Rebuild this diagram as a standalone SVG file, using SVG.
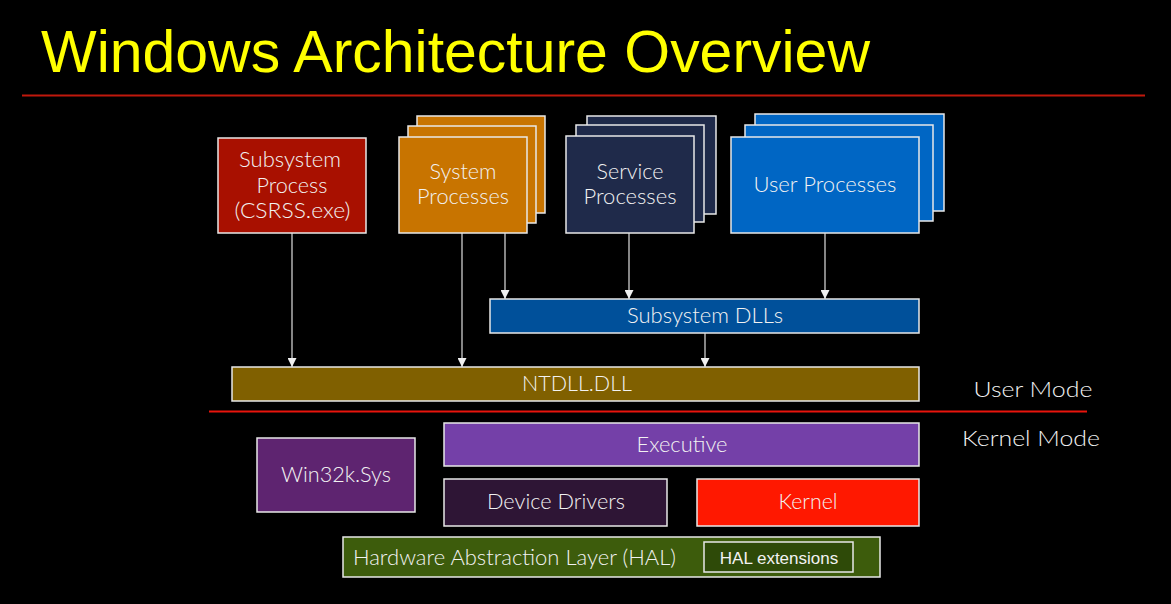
<svg xmlns="http://www.w3.org/2000/svg" width="1171" height="604" viewBox="0 0 1171 604">
<defs>
<style>
.box{stroke:#e8e8e8;stroke-width:1.5}
.t{font-family:Lato,"Noto Sans","Liberation Sans",sans-serif;font-size:21px;font-weight:300;fill:#f2f2f2;text-anchor:middle}
.conn line{stroke:#e0e0e0;stroke-width:1.2}
</style>
<marker id="ah" viewBox="0 0 10 10" refX="10" refY="5" markerWidth="9" markerHeight="9" markerUnits="userSpaceOnUse" orient="auto">
<path d="M0,0 L10,5 L0,10 z" fill="#f0f0f0"/>
</marker>
</defs>
<rect width="1171" height="604" fill="#000"/>
<text x="41" y="72" font-family="'Liberation Sans',Arial,sans-serif" font-size="60" fill="#ffff00" textLength="829" lengthAdjust="spacingAndGlyphs">Windows Architecture Overview</text>
<line x1="22" y1="95.5" x2="1145" y2="95.5" stroke="#c0180c" stroke-width="2"/>

<g id="subsystem-process">
<rect class="box" x="218" y="138" width="148" height="95" fill="#a81000"/>
<text class="t" x="290" y="167" textLength="102" lengthAdjust="spacingAndGlyphs">Subsystem</text>
<text class="t" x="292" y="193" textLength="71" lengthAdjust="spacingAndGlyphs">Process</text>
<text class="t" x="292.5" y="218" textLength="116" lengthAdjust="spacingAndGlyphs">(CSRSS.exe)</text>
</g>

<g id="system-processes">
<rect class="box" x="417" y="116" width="128" height="97" fill="#c87400"/>
<rect class="box" x="408" y="126" width="128" height="97" fill="#c87400"/>
<rect class="box" x="399" y="137" width="128" height="96" fill="#c87400"/>
<text class="t" x="463" y="179" textLength="67" lengthAdjust="spacingAndGlyphs">System</text>
<text class="t" x="463" y="204" textLength="92" lengthAdjust="spacingAndGlyphs">Processes</text>
</g>

<g id="service-processes">
<rect class="box" x="587" y="116" width="129" height="98" fill="#1f2a4a"/>
<rect class="box" x="576" y="125" width="128" height="97" fill="#1f2a4a"/>
<rect class="box" x="566" y="136" width="128" height="97" fill="#1f2a4a"/>
<text class="t" x="630" y="179" textLength="67" lengthAdjust="spacingAndGlyphs">Service</text>
<text class="t" x="630" y="204" textLength="93" lengthAdjust="spacingAndGlyphs">Processes</text>
</g>

<g id="user-processes">
<rect class="box" x="755" y="114" width="189" height="97" fill="#0066c4"/>
<rect class="box" x="745" y="125" width="188" height="96" fill="#0066c4"/>
<rect class="box" x="731" y="137" width="188" height="96" fill="#0066c4"/>
<text class="t" x="825" y="192" textLength="143" lengthAdjust="spacingAndGlyphs">User Processes</text>
</g>

<g id="subsystem-dlls">
<rect class="box" x="490" y="299" width="429" height="34" fill="#00509a"/>
<text class="t" x="705" y="323" textLength="156" lengthAdjust="spacingAndGlyphs">Subsystem DLLs</text>
</g>

<g id="ntdll">
<rect class="box" x="232" y="367" width="687" height="34" fill="#806000"/>
<text class="t" x="577" y="391" textLength="110" lengthAdjust="spacingAndGlyphs">NTDLL.DLL</text>
</g>

<g id="connectors" class="conn">
<line x1="292" y1="233" x2="292" y2="367" marker-end="url(#ah)"/>
<line x1="462" y1="233" x2="462" y2="367" marker-end="url(#ah)"/>
<line x1="505" y1="233" x2="505" y2="299" marker-end="url(#ah)"/>
<line x1="629" y1="233" x2="629" y2="299" marker-end="url(#ah)"/>
<line x1="825" y1="233" x2="825" y2="299" marker-end="url(#ah)"/>
<line x1="705" y1="333" x2="705" y2="367" marker-end="url(#ah)"/>
</g>

<line x1="209" y1="411.5" x2="1087" y2="411.5" stroke="#e8140c" stroke-width="2"/>
<text class="t" x="1033" y="397" style="font-size:22px" textLength="119" lengthAdjust="spacingAndGlyphs">User Mode</text>
<text class="t" x="1031" y="446" style="font-size:22px" textLength="138" lengthAdjust="spacingAndGlyphs">Kernel Mode</text>

<g id="win32k">
<rect class="box" x="257" y="438" width="158" height="74" fill="#5e2470"/>
<text class="t" x="336" y="482" textLength="110" lengthAdjust="spacingAndGlyphs">Win32k.Sys</text>
</g>

<g id="executive">
<rect class="box" x="444" y="423" width="475" height="43" fill="#7440a8"/>
<text class="t" x="682" y="452" textLength="91" lengthAdjust="spacingAndGlyphs">Executive</text>
</g>

<g id="device-drivers">
<rect class="box" x="444" y="479" width="223" height="47" fill="#2e1535"/>
<text class="t" x="556" y="509" textLength="138" lengthAdjust="spacingAndGlyphs">Device Drivers</text>
</g>

<g id="kernel">
<rect class="box" x="697" y="479" width="222" height="47" fill="#ff1800"/>
<text class="t" x="808" y="509" textLength="59" lengthAdjust="spacingAndGlyphs">Kernel</text>
</g>

<g id="hal">
<rect class="box" x="343" y="537" width="537" height="40" fill="#3d5c0c"/>
<text class="t" x="353" y="565" style="text-anchor:start" textLength="323" lengthAdjust="spacingAndGlyphs">Hardware Abstraction Layer (HAL)</text>
</g>

<g id="hal-extensions">
<rect class="box" x="704" y="542" width="149" height="30" fill="#2e4a08"/>
<text x="779" y="564" font-family="'Liberation Sans',Arial,sans-serif" font-size="17" fill="#f2f2f2" text-anchor="middle">HAL extensions</text>
</g>
</svg>
